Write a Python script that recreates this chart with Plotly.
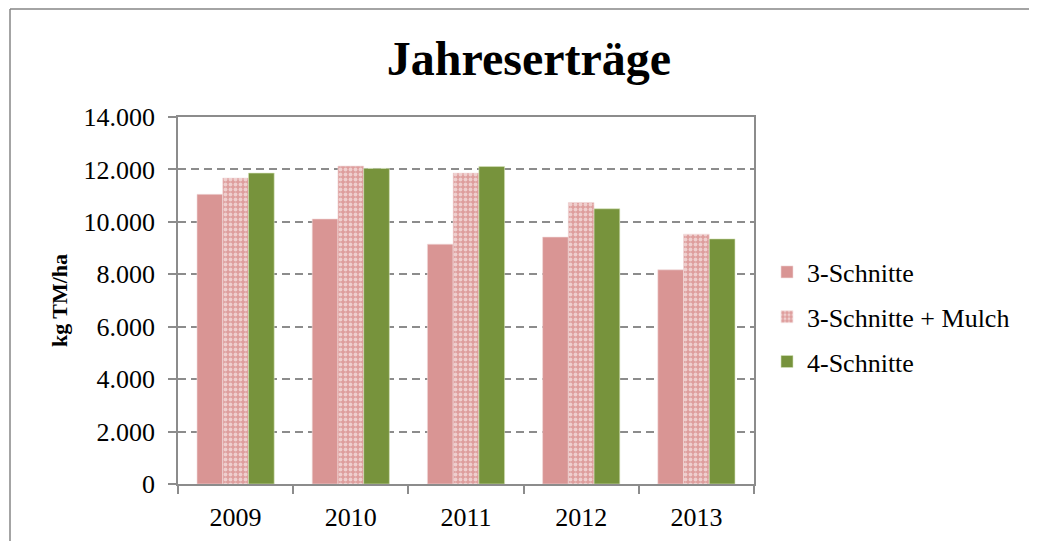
import plotly.graph_objects as go

years = ["2009", "2010", "2011", "2012", "2013"]
schnitte3 = [11050, 10110, 9150, 9420, 8170]
schnitte3_mulch = [11670, 12130, 11860, 10740, 9530]
schnitte4 = [11860, 12040, 12110, 10500, 9350]
series_names = ["3-Schnitte", "3-Schnitte + Mulch", "4-Schnitte"]
y_ticks = [0, 2000, 4000, 6000, 8000, 10000, 12000, 14000]

# page body has an 8px margin, so figure coordinates are offset by 8px
OFF = 8
W, H = 1037, 541
ML = 178 - OFF
MT = 117 - OFF
PR = 754 - OFF
PB = 484 - OFF
MR = W - PR
MB = H - PB
PW, PH = PR - ML, PB - MT

FONT = "Liberation Serif, Times New Roman, serif"
C1 = "#D99594"
C3 = "#77933C"
GRID = "#8C8C8C"

fig = go.Figure()
fig.add_trace(go.Bar(
    name=series_names[0], x=years, y=schnitte3, legendgroup="a",
    marker=dict(color=C1, line=dict(color="#F2DCDB", width=0.6)),
))
fig.add_trace(go.Bar(
    name=series_names[1], x=years, y=schnitte3_mulch, legendgroup="b",
    marker=dict(color="#E0A3A2", line=dict(color="#F2DCDB", width=0.6),
                pattern=dict(shape=".", fgcolor="white", bgcolor="#DE9E9D",
                             size=5, solidity=0.45, fillmode="overlay")),
))
fig.add_trace(go.Bar(
    name=series_names[2], x=years, y=schnitte4, legendgroup="c",
    marker=dict(color=C3, line=dict(color="#D7E4BD", width=0.6)),
))

# outer frame: only top and left edges are visible in the picture
fx0 = (10 - OFF - ML) / PW
fy1 = (PB - (9 - OFF)) / PH
fig.add_shape(type="line", xref="paper", yref="paper",
              x0=fx0, x1=(W + 40 - ML) / PW, y0=fy1, y1=fy1,
              line=dict(color="#868686", width=1.5), layer="below")
fig.add_shape(type="line", xref="paper", yref="paper",
              x0=fx0, x1=fx0, y0=fy1, y1=-(MB + 40) / PH,
              line=dict(color="#868686", width=1.5), layer="below")

fig.update_layout(
    width=W, height=H,
    margin=dict(l=ML, r=MR, t=MT, b=MB, autoexpand=False),
    paper_bgcolor="white", plot_bgcolor="white",
    separators=",.",
    font=dict(family=FONT, size=26, color="black"),
    title=dict(text="<b>Jahreserträge</b>", font=dict(family=FONT, size=48, color="black"),
               x=(529 - OFF) / W, xref="container", xanchor="center",
               y=1 - (58 - OFF) / H, yref="container", yanchor="middle"),
    barmode="group", bargap=0.33, bargroupgap=0.0,
    showlegend=True,
    legend=dict(x=(767 - OFF - ML) / PW, xanchor="left", y=(PB - (317 - OFF)) / PH, yanchor="middle",
                font=dict(family=FONT, size=26, color="black"),
                tracegroupgap=8, bgcolor="rgba(0,0,0,0)", itemwidth=30),
    xaxis=dict(showline=True, linecolor=GRID, linewidth=1.5, mirror=True,
               ticks="outside", ticklen=8, tickcolor=GRID, tickwidth=1.5,
               tickson="boundaries", showgrid=False, ticklabelstandoff=9,
               automargin=False,
               tickfont=dict(family=FONT, size=26, color="black")),
    yaxis=dict(range=[0, 14000], tickvals=y_ticks, tickformat=",d",
               showline=True, linecolor=GRID, linewidth=1.5, mirror=True,
               ticks="outside", ticklen=8, tickcolor=GRID, tickwidth=1.5,
               showgrid=True, gridcolor=GRID, gridwidth=1.5, griddash="8px,5px",
               zeroline=False, ticklabelstandoff=8, automargin=False,
               tickfont=dict(family=FONT, size=26, color="black"),
               title=dict(text="<b>kg TM/ha</b>", font=dict(family=FONT, size=22, color="black"),
                          standoff=10)),
)

fig.write_html("out.html")
